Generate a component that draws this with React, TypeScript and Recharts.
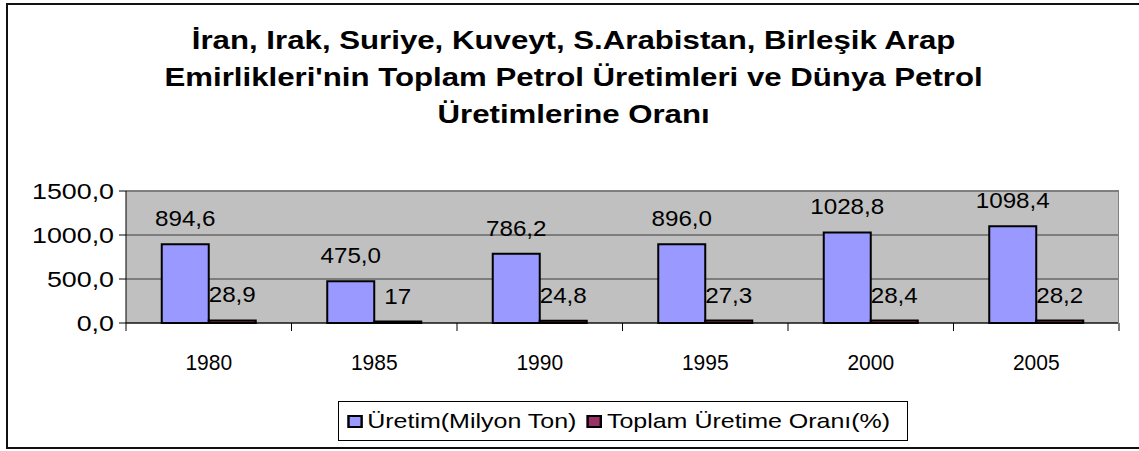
import { Bar, BarChart, CartesianGrid, LabelList, XAxis, YAxis } from "recharts";

const years = ["1980", "1985", "1990", "1995", "2000", "2005"];
const production = [894.6, 475.0, 786.2, 896.0, 1028.8, 1098.4];
const share = [28.9, 17, 24.8, 27.3, 28.4, 28.2];
const yTicks = [0, 500, 1000, 1500];

const titleLines = [
  "İran, Irak, Suriye, Kuveyt, S.Arabistan, Birleşik Arap",
  "Emirlikleri'nin Toplam Petrol Üretimleri ve Dünya Petrol",
  "Üretimlerine Oranı",
];

const seriesNames = ["Üretim(Milyon Ton)", "Toplam Üretime Oranı(%)"];
const seriesColors = ["#9999FF", "#993366"];

const data = years.map((year, i) => ({
  year,
  production: production[i],
  share: share[i],
}));

const FONT = "'Liberation Sans', Arial, sans-serif";

const fmtFixed = (v: number) => v.toFixed(1).replace(".", ",");
const fmtRaw = (v: number) => String(v).replace(".", ",");

// the original output looks stretched sideways, so text gets a small scaleX
const XTick = (props: any) => {
  const { x, y, payload, index } = props;
  const half = payload.offset || 993 / years.length / 2;
  return (
    <g>
      {index === 0 && (
        <line x1={x - half} x2={x - half} y1={y - 8} y2={y} stroke="#000" />
      )}
      <line x1={x + half} x2={x + half} y1={y - 8} y2={y} stroke="#000" />
      <text
        transform={`translate(${x},${y + 39}) scale(1.0,1.08)`}
        textAnchor="middle"
        fontFamily={FONT}
        fontSize={21}
        fill="#000"
      >
        {payload.value}
      </text>
    </g>
  );
};

const YTick = (props: any) => {
  const { x, y, payload } = props;
  return (
    <text
      transform={`translate(${x},${y}) scale(1.22,1)`}
      textAnchor="end"
      dy="0.355em"
      fontFamily={FONT}
      fontSize={22}
      fill="#000"
    >
      {fmtFixed(payload.value)}
    </text>
  );
};

const makeLabel = (fmt: (v: number) => string) => (props: any) => {
  const { x, y, width, value } = props;
  return (
    <text
      transform={`translate(${x + width / 2},${y - 18}) scale(1.1,1)`}
      textAnchor="middle"
      fontFamily={FONT}
      fontSize={22}
      fill="#000"
    >
      {fmt(Number(value))}
    </text>
  );
};

const ProdLabel = makeLabel(fmtFixed);
const ShareLabel = makeLabel(fmtRaw);

export default function App() {
  return (
    <div
      style={{
        position: "absolute",
        left: 0,
        top: 0,
        width: 1139,
        height: 451,
        background: "#fff",
        overflow: "hidden",
        fontFamily: FONT,
      }}
    >
      {/* outer chart frame */}
      <div
        style={{
          position: "absolute",
          left: 6,
          top: 3,
          width: 1140,
          height: 442,
          border: "2px solid #111",
        }}
      />
      <div
        style={{
          position: "absolute",
          left: 7,
          top: 22,
          width: 1136,
          textAlign: "center",
          fontSize: 26,
          fontWeight: "bold",
          lineHeight: "37px",
          color: "#000",
          transform: "scaleX(1.2)",
          transformOrigin: "575px 0",
        }}
      >
        {titleLines.map((l) => (
          <div key={l}>{l}</div>
        ))}
      </div>

      <div style={{ position: "absolute", left: 0, top: 0 }}>
        <BarChart
          width={1139}
          height={451}
          data={data}
          margin={{ top: 191, right: 20, left: 26, bottom: 98 }}
          barCategoryGap="21.6%"
          barGap={0}
        >
          <CartesianGrid
            vertical={false}
            fill="#C0C0C0"
            fillOpacity={1}
            stroke="#3a3a3a"
          />
          <XAxis
            dataKey="year"
            height={30}
            axisLine={{ stroke: "#000" }}
            tickLine={false}
            tickSize={8}
            tickMargin={0}
            tick={<XTick />}
            interval={0}
          />
          <YAxis
            width={100}
            domain={[0, 1500]}
            ticks={yTicks}
            axisLine={{ stroke: "#000" }}
            tickLine={{ stroke: "#000" }}
            tickSize={7}
            tickMargin={5}
            tick={<YTick />}
          />
          <Bar
            dataKey="production"
            fill={seriesColors[0]}
            stroke="#000"
            strokeWidth={2}
            isAnimationActive={false}
          >
            <LabelList dataKey="production" content={<ProdLabel />} />
          </Bar>
          <Bar
            dataKey="share"
            fill={seriesColors[1]}
            stroke="#000"
            strokeWidth={2}
            isAnimationActive={false}
          >
            <LabelList dataKey="share" content={<ShareLabel />} />
          </Bar>
        </BarChart>
      </div>

      {/* plot area border (top/right) */}
      <div
        style={{
          position: "absolute",
          left: 126,
          top: 190,
          width: 992,
          height: 133,
          borderTop: "1px solid #808080",
          borderRight: "1px solid #808080",
          pointerEvents: "none",
        }}
      />

      {/* legend */}
      <div
        style={{
          position: "absolute",
          left: 338,
          top: 401,
          width: 570,
          height: 40,
          border: "1px solid #000",
          boxSizing: "border-box",
          overflow: "hidden",
        }}
      >
        <div
          style={{
            display: "flex",
            alignItems: "center",
            height: 38,
            paddingLeft: 6.7,
            fontSize: 21,
            color: "#000",
            whiteSpace: "nowrap",
            transform: "scaleX(1.19)",
            transformOrigin: "0 0",
          }}
        >
          {seriesNames.map((name, i) => (
            <div
              key={name}
              style={{ display: "flex", alignItems: "center", marginRight: 8.6 }}
            >
              <span
                style={{
                  display: "inline-block",
                  width: 9,
                  height: 9,
                  border: "2px solid #000",
                  background: seriesColors[i],
                  marginRight: 4,
                }}
              />
              <span>{name}</span>
            </div>
          ))}
        </div>
      </div>
    </div>
  );
}
